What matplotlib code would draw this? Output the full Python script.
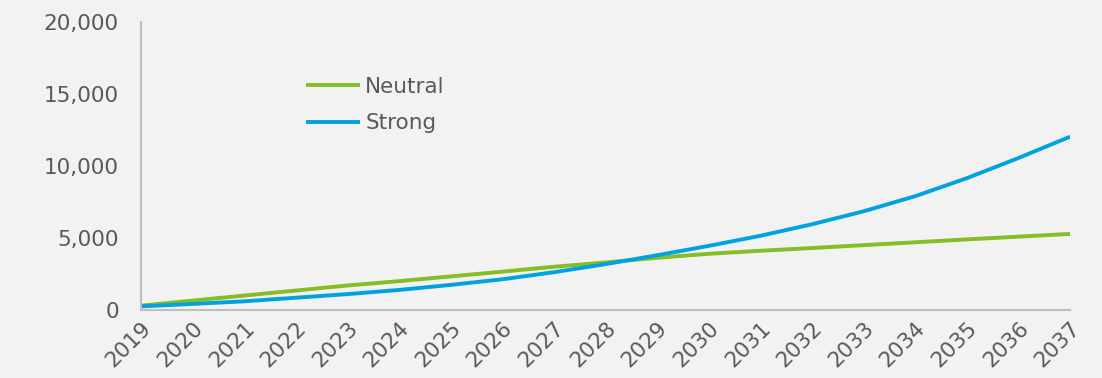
import matplotlib
matplotlib.use("Agg")
import matplotlib.pyplot as plt
import numpy as np

years = [str(y) for y in range(2019, 2038)]
neutral = [300, 650, 1000, 1350, 1700, 2000, 2330, 2660, 3000, 3300,
           3620, 3900, 4110, 4300, 4500, 4700, 4900, 5090, 5280]
strong = [250, 420, 600, 850, 1100, 1390, 1740, 2130, 2620, 3180,
          3800, 4450, 5150, 5950, 6850, 7900, 9150, 10550, 12030]

bg = "#f2f2f2"
txt = "#595959"

plt.rcParams["font.family"] = "DejaVu Sans"
fig = plt.figure(figsize=(11.02, 3.78), dpi=100, facecolor=bg)
ax = fig.add_axes([0.128, 0.180, 0.843, 0.762], facecolor=bg)

x = np.arange(len(years))
ax.plot(x, neutral, color="#86bc25", lw=2.8, label="Neutral", solid_capstyle="butt")
ax.plot(x, strong, color="#00a3e0", lw=2.8, label="Strong", solid_capstyle="butt")

ax.set_xlim(0, len(years) - 1)
ax.set_ylim(0, 20000)
ax.set_yticks([0, 5000, 10000, 15000, 20000])
ax.set_yticklabels([f"{v:,}" for v in ax.get_yticks().astype(int)])
ax.set_xticks(x)
ax.set_xticklabels(years, rotation=45, ha="right", rotation_mode="anchor")
ax.tick_params(length=0, labelsize=15.5, labelcolor=txt)
ax.tick_params(axis="y", pad=16)
ax.tick_params(axis="x", pad=6)

for s in ["top", "right"]:
    ax.spines[s].set_visible(False)
for s in ["left", "bottom"]:
    ax.spines[s].set_color("#bfbfbf")
    ax.spines[s].set_linewidth(1.5)

leg = ax.legend(loc="upper left", bbox_to_anchor=(0.178, 0.81), frameon=False,
                fontsize=15.5, handlelength=2.5, handletextpad=0.23,
                labelspacing=0.78, borderpad=0, borderaxespad=0)
for t in leg.get_texts():
    t.set_color(txt)

fig.savefig("out.png", dpi=100, facecolor=bg)
